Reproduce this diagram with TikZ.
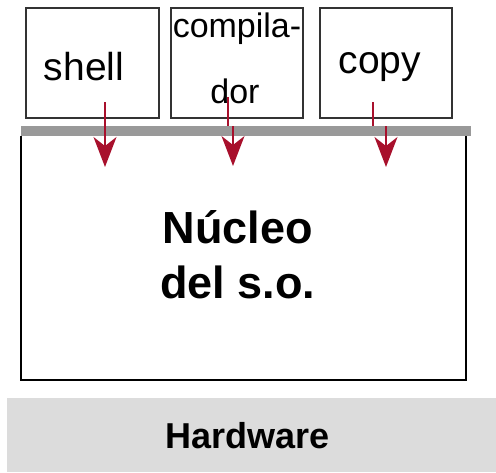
\documentclass[tikz,border=0pt]{standalone}
\usepackage{fontspec}
\setmainfont{Liberation Sans}
\usetikzlibrary{arrows.meta}
\definecolor{arrred}{HTML}{A8102C}
\definecolor{bargray}{HTML}{999999}
\definecolor{hwgray}{HTML}{DCDCDC}
\definecolor{boxline}{HTML}{333333}
\tikzset{
  progbox/.style={draw=boxline, line width=1.6pt, fill=white},
  progtext/.style={anchor=base, inner sep=0pt, font=\fontsize{39}{39}\selectfont},
  bigtext/.style={anchor=base, inner sep=0pt, font=\bfseries\fontsize{45}{45}\selectfont},
  callarrow/.style={draw=arrred, line width=1.4pt, -{Stealth[length=30pt,width=23pt,inset=9pt]}},
  callline/.style={draw=arrred, line width=1.4pt},
}
\begin{document}
\begin{tikzpicture}[x=1pt,y=-1pt]
\useasboundingbox (0,0) rectangle (496,472);
% hardware
\fill[hwgray] (7,398) rectangle (496,472);
\node[anchor=base, inner sep=0pt, font=\bfseries\fontsize{36}{36}\selectfont] (hw) at (248,448) {Hardware};
% kernel box
\draw[black, line width=2.6pt] (21,136) -- (21,380) -- (466,380) -- (466,136);
\node[bigtext] (nuc1) at (238,243) {Núcleo};
\node[bigtext] (nuc2) at (238,298) {del s.o.};
% program boxes
\draw[progbox] (26,8) rectangle (159,118);
\draw[progbox] (171,8) rectangle (303,118);
\draw[progbox] (320,8) rectangle (452,118);
\node[progtext] (shell) at (84,80) {shell};
\node[progtext, font=\fontsize{34}{34}\selectfont] (comp1) at (237,37) {compila-};
\node[progtext, font=\fontsize{34}{34}\selectfont] (comp2) at (235,103) {dor};
\node[progtext] (copy) at (380,73) {copy};
% bar
\fill[bargray] (21,126) rectangle (471,136);
\node[inner sep=0pt] (kernel) at (243,258) {};
% arrows
\coordinate (s0) at (105,102); \coordinate (s1) at (105,167);
\coordinate (c0) at (228,97);  \coordinate (c1) at (228,126);
\coordinate (c2) at (233,126); \coordinate (c3) at (233,166);
\coordinate (p0) at (373,102); \coordinate (p1) at (373,126);
\coordinate (p2) at (386,126); \coordinate (p3) at (386,167);
\draw[callarrow] (s0) -- (s1);
\draw[callline] (c0) -- (c1);
\draw[callarrow] (c2) -- (c3);
\draw[callline] (p0) -- (p1);
\draw[callarrow] (p2) -- (p3);
\end{tikzpicture}
\end{document}
